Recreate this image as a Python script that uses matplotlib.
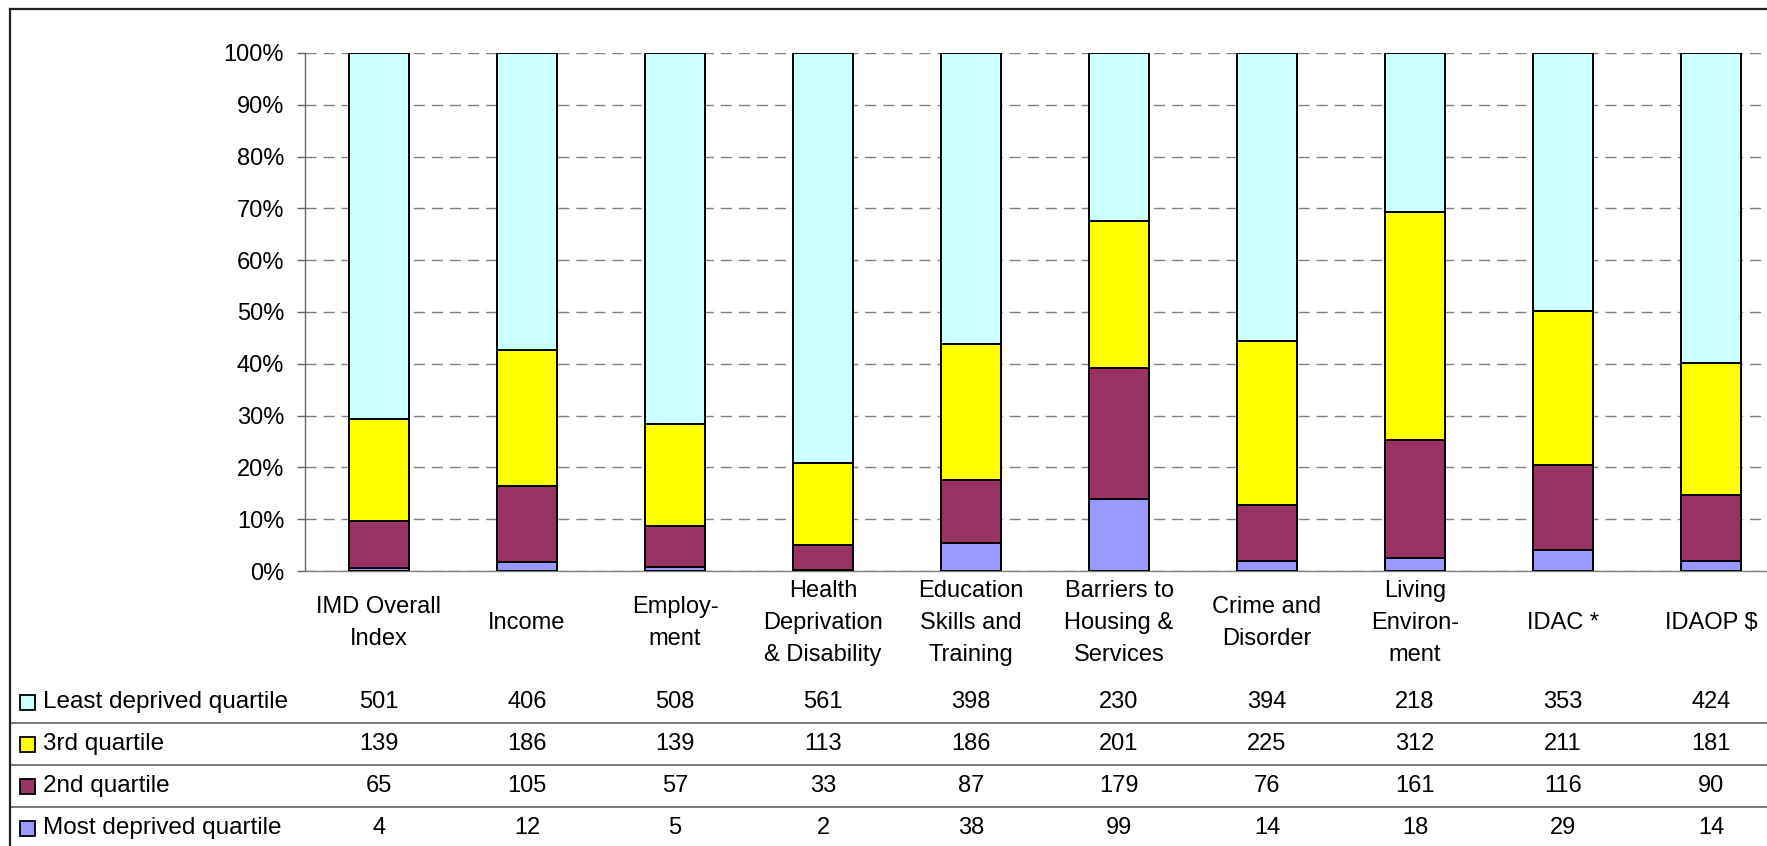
import numpy as np
import matplotlib
matplotlib.use("Agg")
import matplotlib.pyplot as plt
from matplotlib.lines import Line2D
from matplotlib.patches import Rectangle
from matplotlib.ticker import PercentFormatter
import matplotlib.transforms as mtransforms

plt.rcParams["font.family"] = ["Liberation Sans", "DejaVu Sans"]

categories = ["IMD Overall\nIndex", "Income", "Employ-\nment", "Health\nDeprivation\n& Disability",
              "Education\nSkills and\nTraining", "Barriers to\nHousing &\nServices", "Crime and\nDisorder",
              "Living\nEnviron-\nment", "IDAC *", "IDAOP $"]
least = [501, 406, 508, 561, 398, 230, 394, 218, 353, 424]
third = [139, 186, 139, 113, 186, 201, 225, 312, 211, 181]
second = [65, 105, 57, 33, 87, 179, 76, 161, 116, 90]
most = [4, 12, 5, 2, 38, 99, 14, 18, 29, 14]

series_names = ["Least deprived quartile", "3rd quartile", "2nd quartile", "Most deprived quartile"]
series_colors = ["#CCFFFF", "#FFFF00", "#993366", "#9999FF"]

W, H = 1767, 846
FS = 17
fig = plt.figure(figsize=(W / 100, H / 100), dpi=100)

# axes placed in pixel terms; right side runs past the figure edge like the original
ax = fig.add_axes([305 / W, (H - 571) / H, 1480 / W, 518 / H])

counts = np.array([most, second, third, least], dtype=float)
totals = counts.sum(axis=0)
shares = counts / totals * 100
x = np.arange(len(categories))

bottom = np.zeros(len(categories))
stack_colors = series_colors[::-1]
for i in range(4):
    ax.bar(x, shares[i], width=0.405, bottom=bottom, color=stack_colors[i],
           edgecolor="black", linewidth=1.4, zorder=3)
    bottom += shares[i]

ax.set_xlim(-0.5, 9.5)
ax.set_ylim(0, 100)
ax.set_yticks(np.arange(0, 101, 10))
ax.yaxis.set_major_formatter(PercentFormatter(decimals=0))
ax.tick_params(axis="y", direction="out", length=6, width=1, color="#666666",
               labelsize=FS, pad=9)
ax.tick_params(axis="x", length=0, labelbottom=False)
ax.yaxis.grid(True, color="#808080", linewidth=1, dashes=(8, 5))
ax.set_axisbelow(True)
for s in ["top", "right"]:
    ax.spines[s].set_visible(False)
ax.spines["left"].set_color("#666666")
ax.spines["bottom"].set_color("#808080")
ax.spines["left"].set_linewidth(1)
ax.spines["bottom"].set_linewidth(1)

trans = mtransforms.blended_transform_factory(ax.transData, fig.transFigure)

# category labels
for xi, lab in zip(x, categories):
    fig.text(xi, 1 - 623 / H, lab, transform=trans, ha="center", va="center",
             fontsize=FS, linespacing=1.6)

# data table
row_y = [702, 744, 786, 828]
rows = [least, third, second, most]
for ry, vals, name, col in zip(row_y, rows, series_names, series_colors):
    fy = 1 - ry / H
    fig.patches.append(Rectangle((20 / W, fy - 8 / H), 15 / W, 15 / H, transform=fig.transFigure,
                                 facecolor=col, edgecolor="black", linewidth=1.3))
    fig.text(43 / W, fy, name, ha="left", va="center", fontsize=17.5)
    for xi, v in zip(x, vals):
        fig.text(xi, fy, str(v), transform=trans, ha="center", va="center", fontsize=FS)

for ly in [723, 765, 807]:
    fig.lines.append(Line2D([10 / W, 1], [1 - ly / H, 1 - ly / H], transform=fig.transFigure,
                            color="#555555", linewidth=1.1))

# outer border of the chart area
fig.lines.append(Line2D([10 / W, 1], [1 - 9 / H, 1 - 9 / H], transform=fig.transFigure,
                        color="#222222", linewidth=1.6))
fig.lines.append(Line2D([10 / W, 10 / W], [0, 1 - 9 / H], transform=fig.transFigure,
                        color="#222222", linewidth=1.6))

fig.savefig("out.png", dpi=100)
